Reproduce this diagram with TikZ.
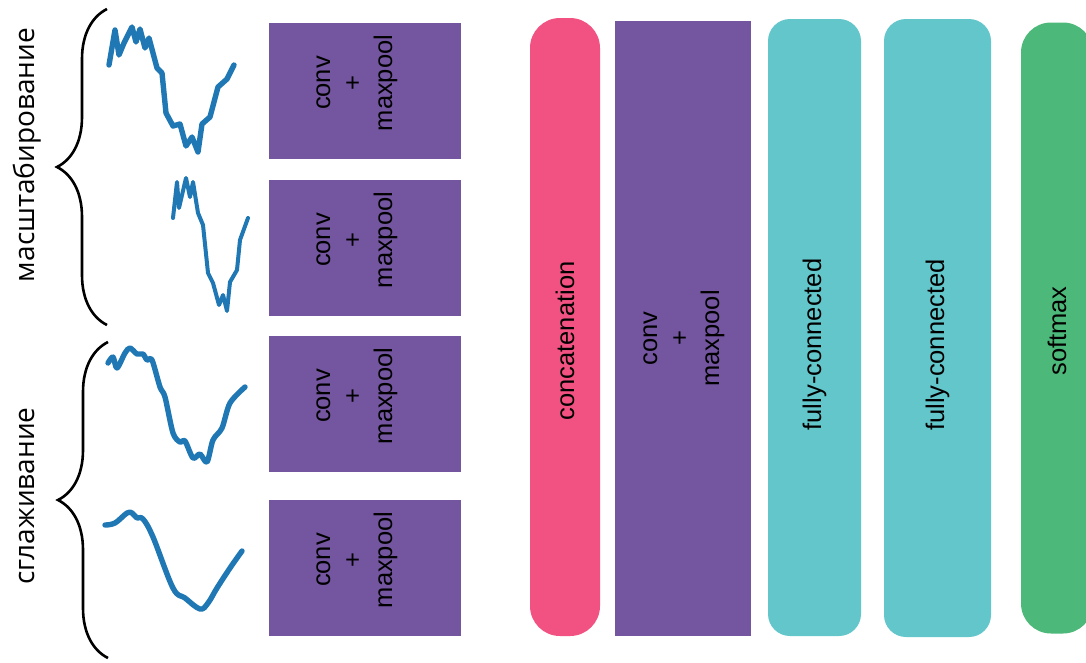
\documentclass[tikz,border=0pt]{standalone}
\usepackage{fontspec}
\setmainfont{Liberation Sans}
\newfontfamily\rusfont{Open Sans}
\usetikzlibrary{decorations, decorations.pathreplacing}
\definecolor{convpurple}{RGB}{116,85,160}
\definecolor{concatpink}{RGB}{242,82,130}
\definecolor{fccyan}{RGB}{98,198,202}
\definecolor{softgreen}{RGB}{76,185,122}
\definecolor{signalblue}{RGB}{31,119,180}
\tikzset{every picture/.style={font issue=\fontsize{25.5}{31}},
         font issue/.style={execute at begin picture={#1\selectfont}},
         layer/.style={rotate=90, inner sep=0pt},
         layertext/.style={rotate=90, inner sep=0pt, align=center, text=black},
         convbox/.style={layer, fill=convpurple, minimum width=136pt, minimum height=192pt},
         signal/.style={signalblue, line width=5.4pt, line join=round, line cap=round},
         scalebrace/.style={decorate, decoration={brace, amplitude=50pt}, line width=2.6pt},
         sidelabel/.style={rotate=90, inner sep=0pt, font=\rusfont\fontsize{28}{32}\selectfont}
        }

\begin{document}
\begin{tikzpicture}[x=1pt, y=-1pt]
        \useasboundingbox (0,0) rectangle (1086,662);
        % braces and their labels
        \draw [scalebrace] (107,325) -- (107,9);
        \draw [scalebrace] (108,658) -- (108,342);
        \node [sidelabel] (scaling) at (27,155) {масштабирование};
        \node [sidelabel] (smoothing) at (27,496) {сглаживание};
        % input signals
        \draw [signal] plot coordinates {(109,65) (115,30) (119,55) (124,43) (132,27) (136,42) (140,29) (145,48) (149,38) (157,68) (162,73) (166,113) (173,126) (180,124) (186,146) (192,137) (198,152) (202,124) (210,117) (218,87) (227,79) (234,65)};
        \draw [signal, line width=4pt] plot coordinates {(173,218) (177,182) (179,208) (186,178) (190,197) (193,182) (198,213) (203,225) (208,273) (213,283) (219,305) (223,295) (227,311) (230,282) (237,270) (240,240) (248,218)};
        \draw [signal] plot [smooth, tension=0.5] coordinates {(108,363) (113,357) (117,368) (125,353) (130,348) (137,354) (143,354) (147,360) (152,360) (160,387) (165,397) (173,433) (180,442) (185,441) (193,458) (200,454) (207,462) (213,440) (222,428) (230,403) (245,387)};
        \draw [signal] plot [smooth, tension=0.6] coordinates {(105,525) (115,523) (127,513) (132,513) (137,518) (143,519) (153,537) (173,588) (185,598) (200,609) (208,603) (217,588) (230,568) (242,551)};
        % branch blocks
        \node [convbox] (conv1) at (365,91) {};
        \node [convbox] (conv2) at (365,248) {};
        \node [convbox] (conv3) at (365,404) {};
        \node [convbox] (conv4) at (365,568) {};
        \node [layertext] (conv1text) at ([shift={(-8pt,8pt)}]conv1.center) {conv\\+\\maxpool};
        \node [layertext] (conv2text) at ([shift={(-8pt,8pt)}]conv2.center) {conv\\+\\maxpool};
        \node [layertext] (conv3text) at ([shift={(-8pt,8pt)}]conv3.center) {conv\\+\\maxpool};
        \node [layertext] (conv4text) at ([shift={(-8pt,8pt)}]conv4.center) {conv\\+\\maxpool};
        % merged layers
        \node [layer, fill=concatpink, rounded corners=30pt, minimum width=618pt, minimum height=70pt] (concat) at (565,327) {};
        \node [layer, fill=convpurple, minimum width=615pt, minimum height=136pt] (conv5) at (683,328.5) {};
        \node [layer, fill=fccyan, rounded corners=22pt, minimum width=617pt, minimum height=93pt] (fc1) at (814.5,327.5) {};
        \node [layer, fill=fccyan, rounded corners=22pt, minimum width=618pt, minimum height=107pt] (fc2) at (937.5,328) {};
        \node [layer, fill=softgreen, rounded corners=30pt, minimum width=611pt, minimum height=72pt] (soft) at (1057,328) {};
        \node [layertext] (concattext) at ([yshift=-14pt]concat.center) {concatenation};
        \node [layertext] (conv5text) at ([shift={(1pt,-10pt)}]conv5.center) {conv\\+\\maxpool};
        \node [layertext] (fc1text) at ([yshift=-17pt]fc1.center) {fully-connected};
        \node [layertext] (fc2text) at ([yshift=-17pt]fc2.center) {fully-connected};
        \node [layertext] (softtext) at ([yshift=-3pt]soft.center) {softmax};
      \end{tikzpicture}
\end{document}
